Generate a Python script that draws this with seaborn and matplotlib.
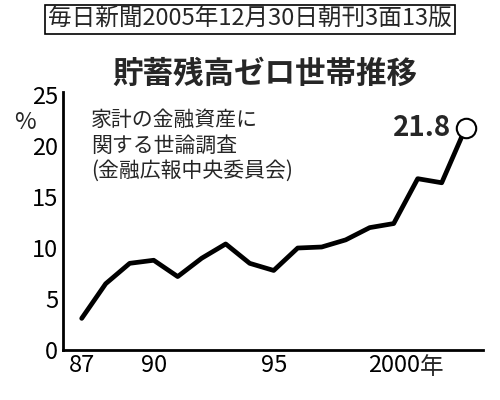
import matplotlib
matplotlib.use("Agg")
import matplotlib.pyplot as plt
import seaborn as sns
import pandas as pd

years = [1987, 1988, 1989, 1990, 1991, 1992, 1993, 1994, 1995, 1996,
         1997, 1998, 1999, 2000, 2001, 2002, 2003]
zero_pct = [3.1, 6.5, 8.5, 8.8, 7.2, 9.0, 10.4, 8.5, 7.8, 10.0,
            10.1, 10.8, 12.0, 12.4, 16.8, 16.4, 21.8]
xticks = [1987, 1990, 1995, 2000]
xtick_labels = ["87", "90", "95", "2000"]
yticks = [0, 5, 10, 15, 20, 25]

sns.set_theme(style="white")
plt.rcParams['font.family'] = ['Noto Sans CJK JP', 'DejaVu Sans']

df = pd.DataFrame({"year": years, "pct": zero_pct})

fig = plt.figure(figsize=(5, 4), dpi=100)
ax = fig.add_axes([0.125, 0.125, 0.84, 0.645])
sns.lineplot(data=df, x="year", y="pct", ax=ax, color="black", linewidth=3.4)
ax.plot(years[-1], zero_pct[-1], "o", ms=14, mfc="white", mec="black", mew=1.5,
        zorder=5, clip_on=False)

ax.set_xlim(1986.2, 2003.7)
ax.set_ylim(0, 25.3)
ax.set_xticks(xticks)
ax.set_xticklabels(xtick_labels, fontsize=17)
ax.set_yticks(yticks)
ax.set_yticklabels([str(v) for v in yticks], fontsize=17)
ax.set_xlabel("")
ax.set_ylabel("")
for s in ["top", "right"]:
    ax.spines[s].set_visible(False)
for s in ["left", "bottom"]:
    ax.spines[s].set_linewidth(2.0)
    ax.spines[s].set_color("black")
ax.tick_params(direction="in", length=5, width=1.5, pad=3, colors="black")

ax.text(2001.1, -0.6, "年", fontsize=17, ha="left", va="top")
ax.text(-0.09, 0.925, "%", transform=ax.transAxes, fontsize=17, ha="center", va="top")
ax.text(2002.4, 21.8, "21.8", fontsize=20, fontweight="bold", ha="right", va="center")
ax.text(1987.4, 23.6, "家計の金融資産に\n関する世論調査\n(金融広報中央委員会)",
        fontsize=15, va="top", linespacing=1.2)

fig.text(0.53, 0.815, "貯蓄残高ゼロ世帯推移", fontsize=22, fontweight="bold",
         ha="center", va="center")
fig.text(0.5, 0.952, "毎日新聞2005年12月30日朝刊3面13版", fontsize=17,
         ha="center", va="center",
         bbox=dict(facecolor="white", edgecolor="black", linewidth=1.2, pad=2))

fig.savefig("out.png", dpi=100)
